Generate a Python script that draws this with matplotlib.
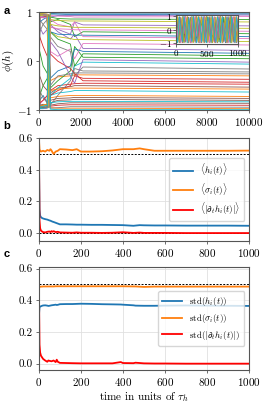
import numpy as np
import matplotlib
matplotlib.use("Agg")
import matplotlib.pyplot as plt

plt.rcParams['font.family'] = ['cmr10', 'DejaVu Serif']
plt.rcParams['mathtext.fontset'] = 'cm'
plt.rcParams['axes.formatter.use_mathtext'] = True
plt.rcParams['axes.unicode_minus'] = True

# ---------------- panel a data ----------------
tk_a = [0, 15, 40, 200, 400, 470, 540, 900, 1500, 1700, 2100, 10000]
start = [0.5, -0.3, 0.9, -0.8, 0.1, 0.7, -0.9, 0.3, -0.5, 0.95,
         -0.1, 0.6, -0.7, 0.2, -0.95, 0.8, -0.4, 0.0, 0.9, -0.6,
         0.4, -0.85, 0.65, -0.2, 0.75, -0.9, 0.15, -0.55, 0.85, -0.35,
         0.45, -0.75, 0.25, -0.05, 0.95, -0.65, 0.55, -0.95, 0.05, 0.8]
s15 = [-0.95, 0.9, -0.9, 0.95, -0.97, -0.8, 0.95, -0.9, 0.97, -0.95,
       0.9, -0.97, 0.95, -0.9, 0.97, -0.95, 0.9, 0.97, -0.95, 0.95,
       -0.9, 0.97, -0.95, 0.9, -0.97, 0.95, -0.9, 0.97, -0.95, 0.9,
       -0.97, 0.95, -0.9, 0.97, -0.95, 0.9, -0.97, 0.95, -0.9, -0.95]
e40 = [0.95, -0.93, 0.88, -0.96, 0.7, -0.9, 0.97, 0.85, -0.92, 0.94,
       -0.8, 0.96, -0.95, 0.5, -0.97, 0.92, -0.88, 0.6, 0.95, -0.94,
       0.93, -0.9, -0.7, 0.88, 0.97, -0.96, 0.91, -0.6, 0.94, -0.97,
       0.8, -0.93, 0.2, -0.85, 0.9, -0.3, 0.92, -0.91, 0.98, -0.94]
e200 = [0.96, -0.92, 0.9, -0.95, 0.55, -0.88, 0.97, 0.75, -0.9, 0.95,
        -0.7, 0.95, -0.96, 0.3, -0.97, 0.9, -0.8, 0.75, 0.94, -0.93,
        0.9, -0.92, -0.5, 0.9, 0.96, -0.95, 0.88, -0.75, 0.93, -0.96,
        0.85, -0.9, -0.1, -0.8, 0.92, -0.5, 0.9, -0.93, 0.97, -0.92]
e400 = [0.95, -0.9, 0.92, -0.94, 0.65, -0.9, 0.96, 0.65, -0.88, 0.94,
        -0.85, 0.93, -0.95, 0.1, -0.96, 0.91, -0.7, 0.85, 0.92, -0.9,
        0.88, -0.94, -0.35, 0.92, 0.95, -0.93, 0.9, -0.85, 0.92, -0.95,
        0.9, -0.88, -0.25, -0.7, 0.93, -0.6, 0.88, -0.95, 0.96, -0.9]
j470 = [-0.9, 0.9, -0.85, 0.95, -0.9, 0.88, -0.95, -0.9, 0.9, -0.92,
        0.85, -0.9, 0.93, -0.88, 0.9, -0.95, 0.9, -0.9, -0.93, 0.9,
        -0.9, 0.95, 0.85, -0.92, -0.9, 0.93, -0.88, 0.9, -0.95, 0.9,
        -0.9, 0.92, 0.6, 0.88, -0.93, 0.9, -0.9, 0.95, -0.92, 0.9]
p540 = [0.97, -0.95, 0.8, -0.6, 0.75, -0.85, 0.93, 0.5, 0.6, -0.7,
        0.96, -0.4, -0.55, -0.92, 0.7, -0.65, 0.2, -0.96, 0.85, -0.7,
        0.6, -0.75, 0.6, -0.7, 0.9, -0.9, 0.85, -0.9, 0.75, -0.98,
        -0.35, -0.6, 0.9, 0.15, 0.4, -0.8, 0.7, -0.5, 0.99, -0.85]
m900 = [0.98, -0.96, 0.85, -0.5, 0.6, -0.8, 0.92, 0.3, 0.5, -0.65,
        0.96, -0.32, -0.4, -0.9, 0.65, -0.55, 0.1, -0.95, 0.83, -0.55,
        0.55, -0.72, 0.45, -0.6, 0.93, -0.87, 0.75, -0.7, 0.72, -0.99,
        -0.2, -0.57, 0.87, 0.0, 0.2, -0.76, 0.66, -0.3, 0.99, -0.83]
m1500 = [0.98, -0.96, 0.75, -0.47, 0.45, -0.79, 0.91, 0.2, 0.46, -0.62,
         0.95, -0.3, -0.2, -0.89, 0.55, -0.52, 0.25, -0.93, 0.82, -0.35,
         0.54, -0.7, 0.35, -0.5, 0.93, -0.85, 0.7, -0.4, 0.7, -0.99,
         -0.1, -0.55, 0.86, -0.15, -0.3, -0.75, 0.65, -0.26, 0.99, -0.82]
m1700 = [0.98, -0.96, 0.5, -0.46, 0.55, -0.78, 0.9, -0.3, 0.44, -0.6,
         0.95, -0.28, 0.3, -0.89, 0.8, -0.5, 0.05, -0.93, 0.82, -0.1,
         0.53, -0.7, -0.1, -0.3, 0.93, -0.85, 0.8, -0.15, 0.69, -0.99,
         0.25, -0.55, 0.86, -0.25, -0.45, -0.74, 0.64, -0.24, 0.99, -0.82]
final = [0.98, -0.96, 0.6, -0.45, 0.26, -0.78, 0.9, -0.12, 0.44, -0.6,
         0.95, -0.28, 0.08, -0.89, 0.74, -0.5, 0.36, -0.93, 0.82, -0.02,
         0.53, -0.7, 0.15, -0.35, 0.93, -0.85, 0.5, -0.2, 0.69, -0.99,
         0.2, -0.55, 0.86, -0.4, 0.03, -0.74, 0.64, -0.24, 0.99, -0.82]
end = [0.98, -0.97, 0.56, -0.47, 0.22, -0.8, 0.91, -0.16, 0.4, -0.63,
       0.96, -0.3, 0.05, -0.9, 0.72, -0.53, 0.33, -0.94, 0.8, -0.06,
       0.5, -0.72, 0.11, -0.37, 0.94, -0.86, 0.46, -0.22, 0.67, -0.99,
       0.16, -0.57, 0.85, -0.43, -0.02, -0.76, 0.61, -0.26, 0.99, -0.83]

ins_lines = [
    [0.9, -0.8, 0.95, -0.9, 0.7, -0.95, 0.85, -0.6, 0.9, -0.9, 0.95, -0.85, 0.6, -0.95, 0.9, -0.7, 0.95, -0.9, 0.8, -0.95,
     0.9, -0.85, 0.95, -0.6, 0.9, -0.95, 0.75, -0.9, 0.95, -0.8, 0.9, -0.95, 0.85, -0.9, 0.95, -0.7, 0.9, -0.95, 0.8, -0.9],
    [-0.95, 0.85, -0.7, 0.9, -0.9, 0.95, -0.8, 0.9, -0.95, 0.6, -0.9, 0.95, -0.85, 0.9, -0.6, 0.95, -0.9, 0.8, -0.95, 0.9,
     -0.75, 0.95, -0.9, 0.85, -0.95, 0.9, -0.8, 0.7, -0.9, 0.95, -0.85, 0.9, -0.95, 0.6, -0.9, 0.95, -0.8, 0.9, -0.7, 0.95],
    [0.6, -0.95, 0.9, -0.75, 0.95, -0.9, 0.8, -0.95, 0.7, -0.85, 0.95, -0.9, 0.9, -0.6, 0.95, -0.95, 0.85, -0.8, 0.9, -0.9,
     0.95, -0.7, 0.8, -0.95, 0.9, -0.85, 0.95, -0.9, 0.6, -0.95, 0.9, -0.8, 0.95, -0.75, 0.85, -0.95, 0.9, -0.6, 0.95, -0.9],
    [-0.85, 0.95, -0.9, 0.6, -0.95, 0.8, -0.9, 0.95, -0.7, 0.9, -0.95, 0.85, -0.8, 0.95, -0.9, 0.7, -0.95, 0.9, -0.6, 0.95,
     -0.9, 0.8, -0.95, 0.9, -0.85, 0.6, -0.95, 0.95, -0.9, 0.75, -0.8, 0.95, -0.9, 0.85, -0.95, 0.9, -0.7, 0.95, -0.9, 0.8],
    [0.3, 0.9, -0.95, 0.85, -0.5, 0.95, -0.9, 0.7, -0.95, 0.9, -0.4, 0.95, -0.9, 0.8, -0.95, 0.5, -0.9, 0.95, -0.85, 0.9,
     -0.95, 0.6, -0.8, 0.95, -0.9, 0.9, -0.5, 0.95, -0.95, 0.8, -0.9, 0.7, -0.95, 0.95, -0.6, 0.9, -0.9, 0.85, -0.95, 0.4],
    [-0.4, -0.9, 0.9, -0.95, 0.5, -0.85, 0.95, -0.6, 0.9, -0.95, 0.8, -0.5, 0.95, -0.9, 0.6, -0.95, 0.9, -0.8, 0.95, -0.4,
     0.9, -0.95, 0.85, -0.9, 0.5, -0.95, 0.9, -0.7, 0.95, -0.9, 0.6, -0.95, 0.9, -0.85, 0.95, -0.5, 0.9, -0.95, 0.7, -0.3],
    [0.95, -0.6, 0.8, -0.95, 0.9, -0.3, 0.95, -0.9, 0.4, -0.95, 0.9, -0.7, 0.95, -0.5, 0.85, -0.95, 0.3, -0.9, 0.95, -0.8,
     0.6, -0.95, 0.9, -0.4, 0.95, -0.9, 0.85, -0.6, 0.95, -0.95, 0.5, -0.85, 0.9, -0.95, 0.4, -0.9, 0.95, -0.7, 0.9, -0.95],
    [-0.9, 0.5, -0.95, 0.9, -0.6, 0.95, -0.4, 0.85, -0.95, 0.9, -0.8, 0.6, -0.95, 0.95, -0.3, 0.9, -0.9, 0.4, -0.95, 0.95,
     -0.6, 0.9, -0.85, 0.95, -0.5, 0.7, -0.95, 0.9, -0.4, 0.95, -0.9, 0.6, -0.95, 0.85, -0.3, 0.95, -0.9, 0.5, -0.95, 0.9],
    [0.0, 0.95, -0.9, 0.2, 0.9, -0.95, -0.2, 0.95, -0.85, 0.5, 0.9, -0.95, 0.1, 0.95, -0.9, -0.5, 0.9, -0.95, 0.7, 0.95,
     -0.9, -0.1, 0.95, -0.95, 0.3, 0.9, -0.9, -0.6, 0.95, -0.95, 0.0, 0.9, -0.9, 0.6, 0.95, -0.95, -0.3, 0.9, -0.9, 0.2],
    [-0.2, -0.95, 0.9, -0.1, -0.9, 0.95, 0.3, -0.95, 0.85, -0.5, -0.9, 0.95, -0.2, -0.95, 0.9, 0.5, -0.9, 0.95, -0.7, -0.95,
     0.9, 0.1, -0.95, 0.95, -0.3, -0.9, 0.9, 0.6, -0.95, 0.95, 0.0, -0.9, 0.9, -0.6, -0.95, 0.95, 0.3, -0.9, 0.9, -0.1],
]

# ---------------- panel b data ----------------
t_mean = [0, 3, 6, 10, 15, 20, 30, 40, 50, 55, 60, 65, 70, 80, 90, 100, 130, 160, 180, 200, 250, 300, 350,
          400, 450, 480, 500, 550, 600, 700, 800, 900, 1000]
mean_h = [0.5, 0.15, 0.11, 0.1, 0.095, 0.092, 0.088, 0.085, 0.08, 0.078, 0.075, 0.072, 0.07, 0.065, 0.06, 0.055,
          0.055, 0.054, 0.053, 0.053, 0.052, 0.052, 0.051, 0.05, 0.046, 0.05, 0.049, 0.048, 0.048, 0.047, 0.047,
          0.047, 0.046]
mean_sigma = [0.6, 0.53, 0.52, 0.515, 0.518, 0.52, 0.515, 0.525, 0.52, 0.53, 0.522, 0.51, 0.5, 0.515, 0.52,
              0.53, 0.528, 0.524, 0.53, 0.515, 0.515, 0.517, 0.522, 0.53, 0.53, 0.535, 0.53, 0.52, 0.52, 0.52,
              0.52, 0.52, 0.521]
mean_dh = [0.62, 0.08, 0.03, 0.015, 0.01, 0.006, 0.004, 0.008, 0.01, 0.006, 0.012, 0.008, 0.012, 0.006, 0.008,
           0.004, 0.003, 0.002, 0.004, 0.002, 0.002, 0.001, 0.002, 0.005, 0.001, 0.003, 0.001, 0.001, 0.001, 0.0,
           0.0, 0.0, 0.0]

# ---------------- panel c data ----------------
t_std = [0, 3, 6, 10, 15, 20, 30, 40, 45, 50, 60, 70, 80, 85, 90, 100, 130, 160, 200, 250, 300, 350, 390,
         400, 450, 460, 500, 550, 600, 700, 800, 900, 1000]
std_h = [0.3, 0.355, 0.36, 0.362, 0.365, 0.367, 0.368, 0.366, 0.364, 0.365, 0.368, 0.37, 0.372, 0.37, 0.371,
         0.375, 0.376, 0.376, 0.378, 0.377, 0.375, 0.374, 0.373, 0.372, 0.368, 0.366, 0.365, 0.365, 0.366, 0.367,
         0.366, 0.365, 0.364]
std_sigma = [0.48, 0.484, 0.485, 0.486, 0.486, 0.487, 0.487, 0.487, 0.487, 0.487, 0.487, 0.487, 0.488, 0.488,
             0.488, 0.488, 0.488, 0.488, 0.488, 0.488, 0.488, 0.488, 0.488, 0.488, 0.487, 0.487, 0.484, 0.486, 0.486,
             0.486, 0.486, 0.486, 0.486]
std_dh = [0.5, 0.12, 0.07, 0.05, 0.04, 0.03, 0.02, 0.012, 0.02, 0.018, 0.015, 0.02, 0.01, 0.025, 0.012, 0.005,
          0.004, 0.003, 0.002, 0.002, 0.002, 0.002, 0.01, 0.004, 0.003, 0.006, 0.002, 0.001, 0.001, 0.0, 0.0,
          0.0, 0.0]

blue, orange, red = '#1f77b4', '#ff7f0e', '#ff0000'
tab10 = plt.rcParams['axes.prop_cycle'].by_key()['color']

fig = plt.figure(figsize=(2.7, 4.05), dpi=100)
fs = 8

def style(ax, lsize=fs):
    for s in ax.spines.values():
        s.set_color('#555555')
        s.set_linewidth(0.8)
    ax.tick_params(labelsize=lsize, length=2.5, width=0.6, color='#555555', pad=2)

# panel a
axa = fig.add_axes([0.144, 0.728, 0.778, 0.242])
Y = np.column_stack([start, s15, e40, e200, e400, j470, p540, m900, m1500, m1700, final, end])
for i in range(Y.shape[0]):
    axa.plot(tk_a, Y[i], lw=0.6, color=tab10[i % 10])
axa.set_xlim(0, 10000)
axa.set_ylim(-1.0, 1.0)
axa.set_yticks([-1, 0, 1])
axa.set_xticks([0, 2000, 4000, 6000, 8000, 10000])
axa.set_ylabel(r'$\phi(h)$', fontsize=fs, labelpad=1)
style(axa)

axi = fig.add_axes([0.652, 0.891, 0.23, 0.0716])
for j, vals in enumerate(ins_lines):
    ti = np.linspace(0, 1000, len(vals))
    axi.plot(ti, vals, lw=0.5, color=tab10[j % 10])
axi.set_xlim(0, 1000)
axi.set_ylim(-1.05, 1.05)
axi.set_yticks([-1, 0, 1])
axi.set_xticks([0, 500, 1000])
style(axi, 6.5)
axi.tick_params(pad=1, length=2)

leg_kw = dict(loc='center right', fontsize=6.5, handlelength=2.2, borderpad=0.45, labelspacing=0.4,
              handletextpad=0.8)

# panel b
axb = fig.add_axes([0.144, 0.405, 0.778, 0.254])
axb.grid(True, color='#e0e0e0', lw=0.6)
axb.axhline(0.5, color='k', ls='--', lw=0.7, dashes=(2, 1.5))
axb.axhline(0.0, color='k', ls='--', lw=0.7, dashes=(2, 1.5))
axb.plot(t_mean, mean_h, color=blue, lw=1.3, label=r'$\langle h_i(t)\rangle$')
axb.plot(t_mean, mean_sigma, color=orange, lw=1.3, label=r'$\langle \sigma_i(t)\rangle$')
axb.plot(t_mean, mean_dh, color=red, lw=1.3, label=r'$\langle |\partial_t h_i(t)|\rangle$')
axb.set_xlim(0, 1000)
axb.set_ylim(-0.05, 0.6)
axb.set_yticks([0.0, 0.2, 0.4, 0.6])
axb.set_xticks([0, 200, 400, 600, 800, 1000])
axb.set_yticklabels(['0.0', '0.2', '0.4', '0.6'])
axb.legend(**leg_kw)
style(axb)

# panel c
axc = fig.add_axes([0.144, 0.0864, 0.778, 0.2545])
axc.grid(True, color='#e0e0e0', lw=0.6)
axc.axhline(0.5, color='k', ls='--', lw=0.7, dashes=(2, 1.5))
axc.plot(t_std, std_h, color=blue, lw=1.3, label=r'std$(h_i(t))$')
axc.plot(t_std, std_sigma, color=orange, lw=1.3, label=r'std$(\sigma_i(t))$')
axc.plot(t_std, std_dh, color=red, lw=1.3, label=r'std$(|\partial_t h_i(t)|)$')
axc.set_xlim(0, 1000)
axc.set_ylim(-0.04, 0.61)
axc.set_yticks([0.0, 0.2, 0.4, 0.6])
axc.set_yticklabels(['0.0', '0.2', '0.4', '0.6'])
axc.set_xticks([0, 200, 400, 600, 800, 1000])
axc.set_xlabel(r'time in units of $\tau_h$', fontsize=fs, labelpad=1)
axc.legend(**leg_kw)
style(axc)

for lab, y in [('a', 0.972), ('b', 0.688), ('c', 0.372)]:
    fig.text(0.012, y, lab, fontsize=8, fontweight='bold', family='Liberation Sans', va='center')

fig.savefig('out.png', dpi=100)
